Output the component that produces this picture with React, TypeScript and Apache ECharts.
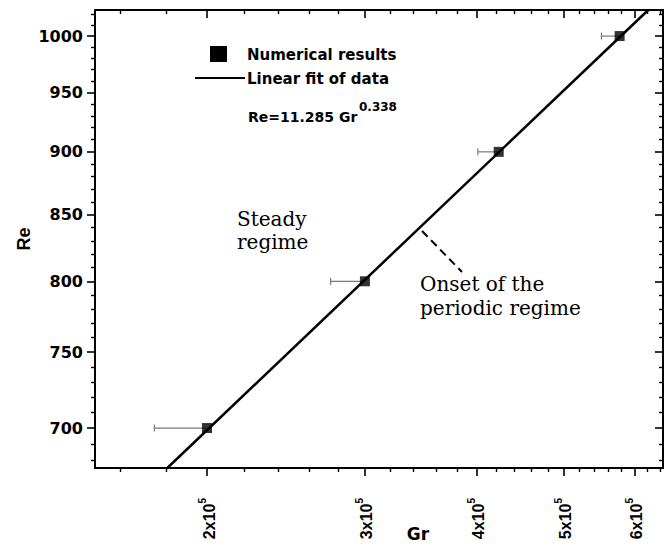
import React, { useEffect, useRef } from 'react';
import * as echarts from 'echarts';

// Numerical results (Gr, Re) with left-side Gr error bars
const grValues = [200000, 300000, 423000, 577000];
const reValues = [700, 800, 900, 1000];
const grErrLow = [174700, 274700, 400900, 550700];

// Linear fit (log-log) endpoints
const fitGr = [180600, 621000];
const fitRe = [675, 1024];

// Axis ranges and ticks
const X_MIN = 150000;
const X_MAX = 645000;
const Y_MIN = 675;
const Y_MAX = 1024;
const xMajorTicks = [200000, 300000, 400000, 500000, 600000];
const xMinorTicks = [
  160000, 180000, 220000, 240000, 260000, 280000, 320000, 340000, 360000, 380000,
  420000, 440000, 460000, 480000, 520000, 540000, 560000, 580000, 620000, 640000,
];
const yMajorTicks = [700, 750, 800, 850, 900, 950, 1000];
const yMinorTicks = [
  680, 690, 710, 720, 730, 740, 760, 770, 780, 790, 810, 820, 830, 840,
  860, 870, 880, 890, 910, 920, 930, 940, 960, 970, 980, 990, 1010, 1020,
];

const legendLabels = ['Numerical results', 'Linear fit of data'];
const equationMain = 'Re=11.285 Gr';
const equationExp = '0.338';
const steadyText = 'Steady\nregime';
const onsetText = 'Onset of the\nperiodic regime';

export default function App() {
  const ref = useRef<HTMLDivElement>(null);

  useEffect(() => {
    const chart = echarts.init(ref.current as HTMLDivElement, null, { renderer: 'svg' });

    const black = '#000';
    const lineStyle = { color: black, width: 2 };

    const xBase = {
      type: 'log',
      logBase: 10,
      min: X_MIN,
      max: X_MAX,
      splitLine: { show: false },
      minorTick: { show: false },
      minorSplitLine: { show: false },
    };
    const yBase = {
      type: 'log',
      logBase: 10,
      min: Y_MIN,
      max: Y_MAX,
      splitLine: { show: false },
      minorTick: { show: false },
      minorSplitLine: { show: false },
    };

    const xAxes = [
      {
        ...xBase,
        position: 'bottom',
        axisLine: { show: true, onZero: false, lineStyle },
        axisTick: { show: true, inside: false, length: 8, customValues: xMajorTicks, lineStyle: { color: black, width: 1.6 } },
        axisLabel: {
          show: true,
          customValues: xMajorTicks,
          rotate: 90,
          margin: 30,
          formatter: (v: number) => `{a|${Math.round(v / 100000)}x10}{b|5}`,
          rich: {
            a: { fontFamily: '"Liberation Sans", Arial, sans-serif', fontWeight: 'bold', fontSize: 16, color: black, verticalAlign: 'bottom' },
            b: { fontFamily: '"Liberation Sans", Arial, sans-serif', fontWeight: 'bold', fontSize: 10, color: black, verticalAlign: 'top', padding: [0, 0, 10, 0] },
          },
        },
        name: 'Gr',
        nameLocation: 'middle',
        nameGap: 57,
        nameMoveOverlap: false,
        nameTextStyle: {
          fontFamily: '"DejaVu Sans", sans-serif',
          fontWeight: 'bold',
          fontSize: 17,
          color: black,
          padding: [0, 0, 0, 78],
        },
      },
      {
        ...xBase,
        position: 'bottom',
        axisLine: { show: false, onZero: false },
        axisTick: { show: true, inside: false, length: 4, customValues: xMinorTicks, lineStyle: { color: black, width: 1.4 } },
        axisLabel: { show: false },
      },
      {
        ...xBase,
        position: 'top',
        axisLine: { show: true, onZero: false, lineStyle },
        axisTick: { show: true, inside: true, length: 8, customValues: xMajorTicks, lineStyle: { color: black, width: 1.6 } },
        axisLabel: { show: false },
      },
      {
        ...xBase,
        position: 'top',
        axisLine: { show: false, onZero: false },
        axisTick: { show: true, inside: true, length: 4, customValues: xMinorTicks, lineStyle: { color: black, width: 1.4 } },
        axisLabel: { show: false },
      },
    ];

    const yAxes = [
      {
        ...yBase,
        position: 'left',
        axisLine: { show: true, onZero: false, lineStyle },
        axisTick: { show: true, inside: false, length: 8, customValues: yMajorTicks, lineStyle: { color: black, width: 1.6 } },
        axisLabel: {
          show: true,
          customValues: yMajorTicks,
          margin: 12,
          formatter: (v: number) => String(Math.round(v)),
          fontFamily: '"DejaVu Sans", sans-serif',
          fontWeight: 'bold',
          fontSize: 16,
          color: black,
        },
        name: 'Re',
        nameLocation: 'middle',
        nameGap: 62,
        nameRotate: 90,
        nameMoveOverlap: false,
        nameTextStyle: {
          fontFamily: '"Liberation Sans", Arial, sans-serif',
          fontWeight: 'bold',
          fontSize: 18,
          color: black,
        },
      },
      {
        ...yBase,
        position: 'left',
        axisLine: { show: false, onZero: false },
        axisTick: { show: true, inside: false, length: 4, customValues: yMinorTicks, lineStyle: { color: black, width: 1.4 } },
        axisLabel: { show: false },
      },
      {
        ...yBase,
        position: 'right',
        axisLine: { show: true, onZero: false, lineStyle },
        axisTick: { show: true, inside: true, length: 8, customValues: yMajorTicks, lineStyle: { color: black, width: 1.6 } },
        axisLabel: { show: false },
      },
      {
        ...yBase,
        position: 'right',
        axisLine: { show: false, onZero: false },
        axisTick: { show: true, inside: true, length: 4, customValues: yMinorTicks, lineStyle: { color: black, width: 1.4 } },
        axisLabel: { show: false },
      },
    ];

    const errData = grValues.map((g, i) => [grErrLow[i], g, reValues[i]]);
    const pointData = grValues.map((g, i) => [g, reValues[i]]);
    const fitData = fitGr.map((g, i) => [g, fitRe[i]]);

    const sansBold = '"DejaVu Sans", sans-serif';
    const serif = '"DejaVu Serif", serif';

    const option = {
      animation: false,
      backgroundColor: '#fff',
      grid: { left: 95, right: 7, top: 10, bottom: 79, containLabel: false, outerBoundsMode: 'none' },
      xAxis: xAxes,
      yAxis: yAxes,
      series: [
        {
          type: 'custom',
          name: 'error',
          xAxisIndex: 0,
          yAxisIndex: 0,
          z: 1,
          encode: { x: [0, 1], y: 2 },
          renderItem: (params: any, api: any) => {
            const lo = api.coord([api.value(0), api.value(2)]);
            const hi = api.coord([api.value(1), api.value(2)]);
            const st = { stroke: '#7a7a7a', lineWidth: 1.2 };
            return {
              type: 'group',
              children: [
                { type: 'line', shape: { x1: lo[0], y1: lo[1], x2: hi[0], y2: hi[1] }, style: st },
                { type: 'line', shape: { x1: lo[0], y1: lo[1] - 3.5, x2: lo[0], y2: lo[1] + 3.5 }, style: st },
              ],
            };
          },
          data: errData,
        },
        {
          type: 'line',
          name: legendLabels[1],
          xAxisIndex: 0,
          yAxisIndex: 0,
          z: 2,
          showSymbol: false,
          symbol: 'none',
          clip: true,
          lineStyle: { color: black, width: 2.5 },
          data: fitData,
        },
        {
          type: 'scatter',
          name: legendLabels[0],
          xAxisIndex: 0,
          yAxisIndex: 0,
          z: 3,
          symbol: 'rect',
          symbolSize: 10,
          itemStyle: { color: black },
          data: pointData,
        },
      ],
      graphic: {
        elements: [
          { type: 'rect', shape: { x: 210, y: 46, width: 17, height: 16 }, style: { fill: black } },
          {
            type: 'text',
            style: { x: 247, y: 54.5, text: legendLabels[0], fontFamily: sansBold, fontWeight: 'bold', fontSize: 15, fill: black, align: 'left', verticalAlign: 'middle' },
          },
          { type: 'line', shape: { x1: 195, y1: 78, x2: 245, y2: 78 }, style: { stroke: black, lineWidth: 2 } },
          {
            type: 'text',
            style: { x: 247, y: 78.5, text: legendLabels[1], fontFamily: sansBold, fontWeight: 'bold', fontSize: 15, fill: black, align: 'left', verticalAlign: 'middle' },
          },
          {
            type: 'text',
            style: { x: 248, y: 116.5, text: equationMain, fontFamily: sansBold, fontWeight: 'bold', fontSize: 14, fill: black, align: 'left', verticalAlign: 'middle' },
          },
          {
            type: 'text',
            style: { x: 359, y: 106.5, text: equationExp, fontFamily: sansBold, fontWeight: 'bold', fontSize: 12, fill: black, align: 'left', verticalAlign: 'middle' },
          },
          {
            type: 'text',
            style: { x: 237, y: 230, text: steadyText, fontFamily: serif, fontSize: 20, lineHeight: 23, fill: black, align: 'left', verticalAlign: 'middle' },
          },
          {
            type: 'line',
            shape: { x1: 422, y1: 231, x2: 462, y2: 272 },
            style: { stroke: black, lineWidth: 2, lineDash: [8, 5] },
          },
          {
            type: 'text',
            style: { x: 420, y: 296, text: onsetText, fontFamily: serif, fontSize: 20, lineHeight: 24, fill: black, align: 'left', verticalAlign: 'middle' },
          },
        ],
      },
    };

    chart.setOption(option as any);
    return () => chart.dispose();
  }, []);

  return (
    <div
      ref={ref}
      style={{ position: 'fixed', left: 0, top: 0, width: 670, height: 547, background: '#fff' }}
    />
  );
}
